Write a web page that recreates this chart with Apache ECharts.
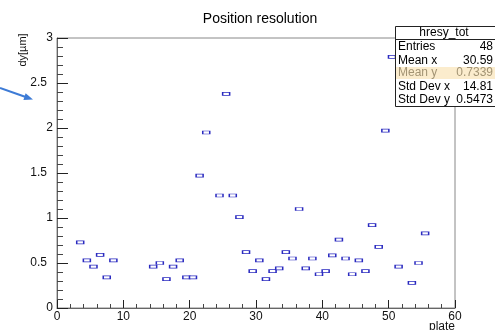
<!DOCTYPE html>
<html><head><meta charset="utf-8">
<script src="https://cdn.jsdelivr.net/npm/echarts@6/dist/echarts.min.js"></script>
<style>html,body{margin:0;padding:0;background:#fff}#c{width:495px;height:330px}</style>
</head><body><div id="c"></div>
<script>
// Bin centers (plate) and dy values
const plates = [3.5,4.5,5.5,6.5,7.5,8.5,
  14.5,15.5,16.5,17.5,18.5,19.5,20.5,
  21.5,22.5,24.5,25.5,26.5,27.5,
  28.5,29.5,30.5,31.5,32.5,33.5,34.5,35.5,36.5,37.5,38.5,39.5,40.5,41.5,42.5,43.5,44.5,45.5,46.5,47.5,48.5,
  49.5,50.5,51.5,53.5,54.5,55.5];
const dyValues = [0.73,0.53,0.46,0.59,0.34,0.53,
  0.46,0.50,0.32,0.46,0.53,0.34,0.34,
  1.47,1.95,1.25,2.38,1.25,1.01,
  0.62,0.41,0.53,0.32,0.41,0.44,0.62,0.55,1.10,0.44,0.55,0.375,0.41,0.585,0.76,0.55,0.375,0.53,0.41,0.92,0.68,
  1.97,2.79,0.46,0.28,0.50,0.83];
const xTicks = [0,10,20,30,40,50,60];
const yTicks = [0,0.5,1,1.5,2,2.5,3];
const statsTitle = 'hresy_tot';
const statsNames = ['Entries','Mean x','Mean y','Std Dev x','Std Dev y'];
const statsVals = ['48','30.59','0.7339','14.81','0.5473'];

const FONT = '"Liberation Sans", Arial, Helvetica, sans-serif';
const chart = echarts.init(document.getElementById('c'), null, {renderer:'canvas'});

const statsGraphics = [];
statsGraphics.push({type:'rect', shape:{x:395.5,y:26.5,width:101,height:80}, style:{fill:'#fff',stroke:'#222',lineWidth:1}, z:100});
statsGraphics.push({type:'rect', shape:{x:396,y:67,width:100,height:12}, style:{fill:'#fbeccd'}, z:101});
statsGraphics.push({type:'line', shape:{x1:395.5,y1:39.5,x2:495,y2:39.5}, style:{stroke:'#222',lineWidth:1}, z:101});
statsGraphics.push({type:'text', x:444, y:33, style:{text:statsTitle, font:'12px '+FONT, fill:'#000', textAlign:'center', textVerticalAlign:'middle'}, z:102});
const rowY = [47, 60.5, 73, 86.5, 100];
statsNames.forEach((n,i)=>{
  const col = i===2 ? '#a39474' : '#000';
  statsGraphics.push({type:'text', x:398, y:rowY[i], style:{text:n, font:'12px '+FONT, fill:col, textAlign:'left', textVerticalAlign:'middle'}, z:102});
  statsGraphics.push({type:'text', x:493, y:rowY[i], style:{text:statsVals[i], font:'12px '+FONT, fill:col, textAlign:'right', textVerticalAlign:'middle'}, z:102});
});

chart.setOption({
  animation:false,
  backgroundColor:'#fff',
  title:{text:'Position resolution', left:255, top:7, textAlign:'center',
    textStyle:{fontFamily:FONT, fontSize:14, fontWeight:'normal', color:'#000'}},
  grid:{left:57, right:40, top:38, bottom:22, show:true, borderColor:'#888', borderWidth:1, backgroundColor:'transparent'},
  xAxis:{type:'value', min:0, max:60, interval:10,
    axisLine:{show:true, onZero:false, lineStyle:{color:'#666',width:1}},
    axisTick:{show:true, inside:true, length:8, lineStyle:{color:'#222'}},
    minorTick:{show:true, splitNumber:5, length:4, lineStyle:{color:'#444'}},
    splitLine:{show:false},
    axisLabel:{margin:3, fontFamily:FONT, fontSize:12, color:'#111',
      formatter:v=> xTicks.includes(v) ? String(v) : ''}},
  yAxis:{type:'value', min:0, max:3, interval:0.5,
    axisLine:{show:true, onZero:false, lineStyle:{color:'#666',width:1}},
    axisTick:{show:true, inside:true, length:11, lineStyle:{color:'#222'}},
    minorTick:{show:true, splitNumber:5, length:6, lineStyle:{color:'#444'}},
    splitLine:{show:false},
    axisLabel:{margin:4, fontFamily:FONT, fontSize:12, color:'#111',
      formatter:v=> yTicks.includes(v) ? (Number.isInteger(v) ? String(v) : '{d|'+v+'}') : '',
      rich:{d:{fontFamily:FONT, fontSize:12, color:'#111', padding:[0,6,0,0]}}}},
  series:[{type:'scatter', symbol:'rect', symbolSize:[7,3],
    itemStyle:{color:'#fff', borderColor:'#2a2ac0', borderWidth:1, opacity:1},
    data: plates.map((p,i)=>[p, dyValues[i]]), z:5}],
  graphic:[
    {type:'text', x:23, y:50, rotation:Math.PI/2, style:{text:'dy[µm]', font:'11px '+FONT, fill:'#111', textAlign:'center', textVerticalAlign:'middle'}},
    {type:'text', x:455, y:327, style:{text:'plate', font:'12px '+FONT, fill:'#111', textAlign:'right', textVerticalAlign:'middle'}},
    {type:'line', shape:{x1:0,y1:88,x2:25,y2:96.7}, style:{stroke:'#3d7bd6', lineWidth:2}},
    {type:'polygon', shape:{points:[[33,99.5],[23.4,99.9],[25.6,93.3]]}, style:{fill:'#3d7bd6'}},
    ...statsGraphics
  ]
});
</script></body></html>
